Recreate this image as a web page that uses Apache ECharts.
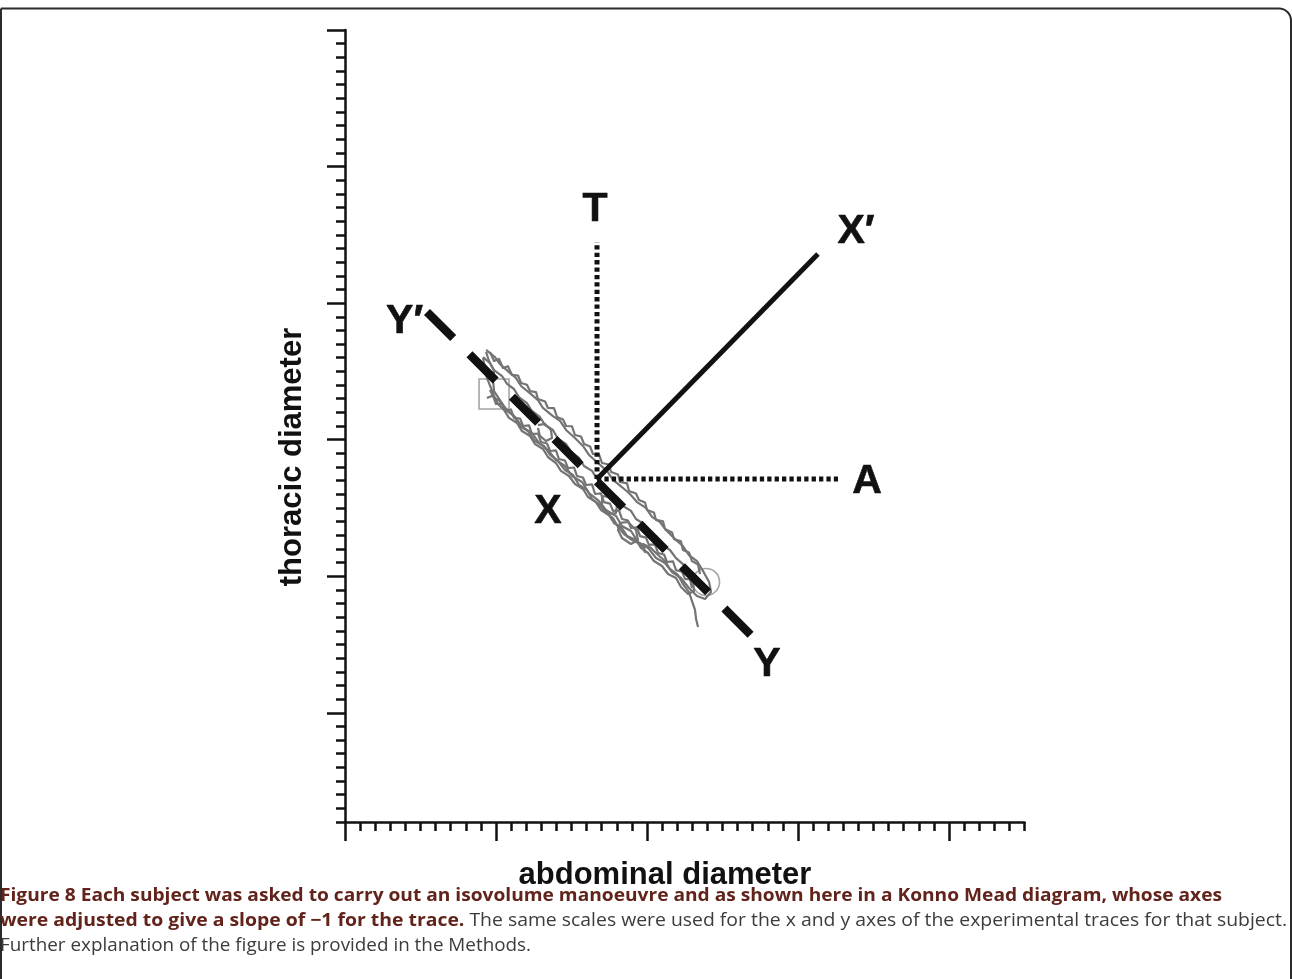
<!DOCTYPE html>
<html>
<head>
<meta charset="utf-8">
<title>Konno Mead diagram</title>
<script src="https://cdn.jsdelivr.net/npm/echarts@6/dist/echarts.min.js"></script>
<style>
  html, body { margin: 0; padding: 0; background: #ffffff; }
  #chart { width: 1292px; height: 979px; }
</style>
</head>
<body>
<div id="chart"></div>
<script>
// Axis extents, in minor-tick units (no numeric labels are printed on either axis)
const X_MAX = 45;
const Y_MAX = 58;
const xMajorTicks = [0, 10, 20, 30, 40];
const yMajorTicks = [8, 18, 28, 38, 48, 58];

// Isovolume manoeuvre traces (abdominal, thoracic)
const traceOuter = [
  [9.34,34.57],[9.93,34.05],[10.26,33.54],[10.86,32.95],[11.32,32.52],[11.66,31.93],[12.32,31.34],
  [12.78,30.90],[13.11,30.32],[13.77,29.73],[14.24,29.37],[14.64,28.71],[15.23,28.12],[15.76,27.54],
  [16.16,26.88],[16.75,26.29],[17.35,25.71],[17.75,25.05],[18.34,24.53],[18.87,24.02],[19.34,23.43],
  [19.93,23.00],[20.33,22.34],[20.86,21.97],[21.26,21.38],[21.85,20.72],[22.38,20.21],[22.78,19.55],
  [23.31,19.11],[23.71,18.38],[24.11,17.58],[24.24,16.84],[23.84,16.33],[23.31,16.55],[22.78,17.14],
  [22.25,17.87],[21.66,18.31],[21.19,18.97],[20.60,19.33],[20.07,20.07],[19.40,20.51],[18.94,21.31],
  [18.34,21.68],[17.95,22.41],[17.28,22.85],[16.75,23.58],[16.16,24.09],[15.70,24.90],[15.03,25.34],
  [14.57,26.07],[13.97,26.51],[13.44,27.24],[12.85,27.76],[12.38,28.49],[11.72,28.93],[11.26,29.66],
  [10.66,30.17],[10.26,30.90],[9.87,31.56],[9.80,32.37],[9.87,33.03],[9.54,33.76],[9.34,34.42]
];
const traceInner = [
  [9.14,34.05],[9.60,33.61],[9.87,33.10],[10.40,32.66],[10.73,32.08],[11.19,31.71],[11.52,31.12],
  [12.05,30.68],[12.38,30.10],[12.91,29.66],[13.25,29.07],[13.77,28.71],[14.11,28.05],[14.64,27.68],
  [14.97,27.10],[15.50,26.66],[15.83,26.07],[16.36,25.71],[16.69,25.12],[17.22,24.68],[17.55,24.09],
  [18.08,23.73],[18.41,23.14],[18.94,22.78],[19.27,22.19],[19.80,21.82],[20.13,21.24],[20.66,20.87],
  [20.99,20.29],[21.52,19.92],[21.92,19.33],[22.38,18.89],[22.72,18.24],[23.05,17.65],[23.11,16.92],
  [22.72,16.70],[22.25,17.21],[21.92,17.87],[21.39,18.16],[20.99,18.75],[20.46,19.11],[20.07,19.70],
  [19.60,20.07],[19.27,20.65],[18.68,20.94],[18.34,21.53],[17.81,21.90],[17.48,22.48],[16.95,22.85],
  [16.62,23.43],[16.09,23.80],[15.76,24.39],[15.23,24.75],[14.83,25.34],[14.30,25.71],[13.97,26.29],
  [13.44,26.73],[13.11,27.32],[12.58,27.68],[12.25,28.27],[11.72,28.63],[11.39,29.22],[10.86,29.59],
  [10.53,30.17],[10.13,30.61],[9.87,31.20],[9.67,31.78],[9.40,32.52],[9.27,33.32],[9.14,33.98]
];
const traceUpperEdge = [
  [9.60,34.42],[9.87,33.76],[10.20,33.91],[10.46,33.25],[10.79,33.38],[11.06,32.74],[11.46,32.70],
  [11.66,32.15],[12.05,32.02],[12.25,31.56],[12.65,31.48],[12.78,30.98],[13.25,30.79],[13.44,30.32],
  [13.84,30.31],[14.04,29.66],[14.44,29.47],[14.64,29.00],[15.03,28.98],[15.23,28.34],[15.63,28.23],
  [15.83,27.68],[16.23,27.50],[16.42,26.95],[16.82,26.92],[17.02,26.29],[17.48,26.18],[17.62,25.63],
  [18.08,25.45],[18.21,24.90],[18.68,24.80],[18.81,24.24],[19.27,24.05],[19.47,23.58],[19.87,23.40],
  [20.00,22.85],[20.46,22.66],[20.60,22.12],[21.06,22.02],[21.19,21.46],[21.66,21.20],[21.79,20.72],
  [22.25,20.55],[22.38,19.92],[22.78,19.74],[22.98,19.11],[23.38,18.86],[23.51,18.16]
];
const traceLowerEdge = [
  [9.40,31.05],[9.80,31.24],[10.00,30.61],[10.40,30.64],[10.60,30.10],[10.99,30.21],[11.19,29.59],
  [11.59,29.55],[11.79,29.00],[12.19,29.05],[12.38,28.41],[12.78,28.45],[12.98,27.83],[13.38,27.72],
  [13.58,27.17],[13.97,27.21],[14.17,26.58],[14.57,26.47],[14.77,25.92],[15.17,25.96],[15.36,25.34],
  [15.76,25.23],[15.96,24.68],[16.36,24.72],[16.56,24.02],[16.95,24.06],[17.15,23.43],[17.55,23.32],
  [17.75,22.78],[18.15,22.82],[18.34,22.19],[18.74,22.08],[18.94,21.53],[19.34,21.57],[19.54,20.94],
  [19.93,20.83],[20.13,20.29],[20.53,20.33],[20.73,19.70],[21.13,19.59],[21.32,19.04],[21.72,19.08],
  [21.92,18.45],[22.32,18.34],[22.52,17.80],[22.85,17.76],[22.98,17.14]
];
const traceTail = [
  [10.13,31.05],[10.60,30.25],[11.13,29.81],[11.59,29.00],[12.12,28.63],[12.58,27.90],[13.18,27.54],
  [13.58,26.88],[14.11,26.44],[14.57,25.78],[15.10,25.41],[15.50,24.68],[16.03,24.31],[16.36,23.65],
  [16.89,23.21],[17.28,22.63],[17.75,22.26],[18.08,21.60],[18.48,21.09],[19.01,20.65],[19.54,20.36],
  [19.87,19.77],[19.74,20.36],[20.26,20.07],[20.66,19.63],[21.19,19.11],[21.52,18.53],[22.05,18.09],
  [22.38,17.43],[22.78,16.84],[22.98,16.18],[23.18,15.53],[23.25,14.87],[23.38,14.28]
];
const traceHook = [[9.60,31.64],[9.87,31.05],[10.26,30.83],[10.46,30.54],[10.73,30.17]];
const loopUpper = [[12.78,29.07],[13.25,29.15],[13.64,28.71],[13.71,28.12],[13.31,27.90],[12.91,28.27],[12.78,28.85]];
const loopMiddle = [[17.02,23.87],[17.55,23.80],[18.01,23.21],[17.95,22.63],[17.48,22.56],[17.02,23.14],[17.02,23.87]];
const loopLower = [[18.21,21.90],[18.74,21.97],[19.27,21.38],[19.40,20.65],[18.94,20.36],[18.34,20.80],[18.08,21.38],[18.21,21.90]];

// Start (square) and end (circle) markers of the trace
const startPoint = [9.87, 31.34];
const endPoint = [23.91, 17.58];

// Konno Mead reference lines through the operating point X
const originX = [16.69, 25.12];
const lineT = [originX, [16.69, 42.48]];
const lineA = [originX, [32.65, 25.12]];
const lineXPrime = [originX, [31.32, 41.60]];
const lineYY = [[5.43, 37.35], [26.95, 13.62]];

// Letter annotations
const letterNames = ['T', 'X\u2032', 'Y\u2032', 'A', 'X', 'Y'];
const letterAnchors = [[16.56, 44.82], [33.84, 43.21], [3.95, 36.62], [34.57, 24.90], [13.44, 22.70], [27.95, 11.50]];

const xAxisTitle = 'abdominal diameter';
const yAxisTitle = 'thoracic diameter';
const captionLines = [
  [['Figure 8 Each subject was asked to carry out an isovolume manoeuvre and as shown here in a Konno Mead diagram, whose axes', true]],
  [['were adjusted to give a slope of \u22121 for the trace.', true],
   [' The same scales were used for the x and y axes of the experimental traces for that subject.', false]],
  [['Further explanation of the figure is provided in the Methods.', false]]
];
const captionLineEnds = [1222, 1287, 531];

// ---------- layout & drawing ----------
const INK = '#111111';
const TRACE = '#747474';
const GRID = { left: 345, top: 30, width: 679.5, height: 792 };

function minorTicks(max, majors) {
  const out = [];
  for (let v = 0; v <= max; v++) if (majors.indexOf(v) < 0) out.push(v);
  return out;
}
const xMinorTicks = minorTicks(X_MAX, xMajorTicks);
const yMinorTicks = minorTicks(Y_MAX, yMajorTicks);

const tickStyle = { color: INK, width: 2.5 };

function traceSeries(data) {
  return {
    type: 'line', data: data, showSymbol: false, silent: true, z: 2,
    lineStyle: { color: TRACE, width: 2.2, join: 'round' }
  };
}

// Caption lines, condensed horizontally to their measured extents
const CAP_FONT = '"Open Sans", "Liberation Sans", sans-serif';
const CAP_SIZE = 18;
const BOLD_COLOR = '#62231a';
const TEXT_COLOR = '#3c3c3c';
const measureCtx = document.createElement('canvas').getContext('2d');
function lineWidth(parts) {
  let w = 0;
  parts.forEach(function (p) {
    measureCtx.font = (p[1] ? 'bold ' : '') + CAP_SIZE + 'px ' + CAP_FONT;
    w += measureCtx.measureText(p[0]).width;
  });
  return w;
}
const captionGraphics = captionLines.map(function (parts, i) {
  return {
    type: 'text', x: 0, y: 896 + i * 25, scaleX: captionLineEnds[i] / lineWidth(parts), z: 10, silent: true,
    style: {
      text: parts.map(function (p) { return '{' + (p[1] ? 'b' : 'r') + '|' + p[0] + '}'; }).join(''),
      verticalAlign: 'middle', align: 'left',
      rich: {
        b: { fontFamily: CAP_FONT, fontSize: CAP_SIZE, fontWeight: 'bold', fill: BOLD_COLOR },
        r: { fontFamily: CAP_FONT, fontSize: CAP_SIZE, fontWeight: 'normal', fill: TEXT_COLOR }
      }
    }
  };
});

function noLabels() { return { show: false }; }

const chart = echarts.init(document.getElementById('chart'), null, { renderer: 'canvas' });
chart.setOption({
  animation: false,
  backgroundColor: '#ffffff',
  grid: GRID,
  xAxis: [
    {
      type: 'value', min: 0, max: X_MAX, position: 'bottom',
      axisLine: { show: true, onZero: false, lineStyle: tickStyle },
      axisTick: { show: true, customValues: xMajorTicks, length: 19, lineStyle: tickStyle },
      axisLabel: noLabels(), splitLine: { show: false }
    },
    {
      // minor ticks: a top-positioned axis shifted down onto the bottom edge
      type: 'value', min: 0, max: X_MAX, position: 'top', offset: -GRID.height,
      axisLine: { show: false, onZero: false },
      axisTick: { show: true, inside: true, customValues: xMinorTicks, length: 9, lineStyle: tickStyle },
      axisLabel: noLabels(), splitLine: { show: false }
    }
  ],
  yAxis: [
    {
      type: 'value', min: 0, max: Y_MAX, position: 'left',
      axisLine: { show: true, onZero: false, lineStyle: tickStyle },
      axisTick: { show: true, customValues: yMajorTicks, length: 18, lineStyle: tickStyle },
      axisLabel: noLabels(), splitLine: { show: false }
    },
    {
      // minor ticks: a right-positioned axis shifted onto the left edge
      type: 'value', min: 0, max: Y_MAX, position: 'right', offset: -GRID.width,
      axisLine: { show: false, onZero: false },
      axisTick: { show: true, inside: true, customValues: yMinorTicks, length: 9, lineStyle: tickStyle },
      axisLabel: noLabels(), splitLine: { show: false }
    }
  ],
  series: [
    {
      type: 'scatter', data: [startPoint], symbol: 'rect', symbolSize: 30, silent: true, z: 1,
      itemStyle: { color: 'rgba(0,0,0,0)', borderColor: '#8e8e8e', borderWidth: 1.6 }
    },
    {
      type: 'scatter', data: [endPoint], symbol: 'circle', symbolSize: 27, silent: true, z: 1,
      itemStyle: { color: 'rgba(0,0,0,0)', borderColor: '#8e8e8e', borderWidth: 1.6 }
    },
    traceSeries(traceOuter),
    traceSeries(traceInner),
    traceSeries(traceUpperEdge),
    traceSeries(traceLowerEdge),
    traceSeries(traceTail),
    traceSeries(traceHook),
    traceSeries(loopUpper),
    traceSeries(loopMiddle),
    traceSeries(loopLower),
    {
      type: 'line', data: lineYY, showSymbol: false, silent: true, z: 3,
      lineStyle: { color: INK, width: 8.5, type: [37, 23], cap: 'butt' }
    },
    {
      type: 'line', data: lineT, showSymbol: false, silent: true, z: 3,
      lineStyle: { color: INK, width: 5, type: [4.3, 3.1], cap: 'butt' }
    },
    {
      type: 'line', data: lineA, showSymbol: false, silent: true, z: 3,
      lineStyle: { color: INK, width: 5, type: [4.3, 3.1], cap: 'butt' }
    },
    {
      type: 'line', data: lineXPrime, showSymbol: false, silent: true, z: 3,
      lineStyle: { color: INK, width: 5, cap: 'butt' }
    },
    {
      type: 'scatter', symbolSize: 0, silent: true, z: 4,
      itemStyle: { color: INK },
      data: letterNames.map(function (n, i) { return { name: n, value: letterAnchors[i] }; }),
      label: {
        show: true, position: 'inside', formatter: '{b}', opacity: 1,
        fontFamily: '"Liberation Sans", Arial, sans-serif', fontWeight: 'bold', fontSize: 41,
        color: INK, textBorderColor: INK, textBorderWidth: 0.6
      }
    }
  ],
  graphic: [
    {
      type: 'rect', z: 0, silent: true,
      shape: { x: 1, y: 8.5, width: 1290, height: 1000, r: [0, 12, 0, 0] },
      style: { fill: 'none', stroke: '#2b2b2b', lineWidth: 2 }
    },
    {
      type: 'text', x: 665, y: 875, z: 10, silent: true,
      style: {
        text: xAxisTitle, align: 'center', verticalAlign: 'middle',
        fontFamily: '"Liberation Sans", Arial, sans-serif', fontWeight: 'bold', fontSize: 31, fill: INK
      }
    },
    {
      type: 'text', x: 292, y: 457, rotation: Math.PI / 2, z: 10, silent: true,
      style: {
        text: yAxisTitle, align: 'center', verticalAlign: 'middle',
        fontFamily: '"Liberation Sans", Arial, sans-serif', fontWeight: 'bold', fontSize: 31, fill: INK
      }
    }
  ].concat(captionGraphics)
});
</script>
</body>
</html>
